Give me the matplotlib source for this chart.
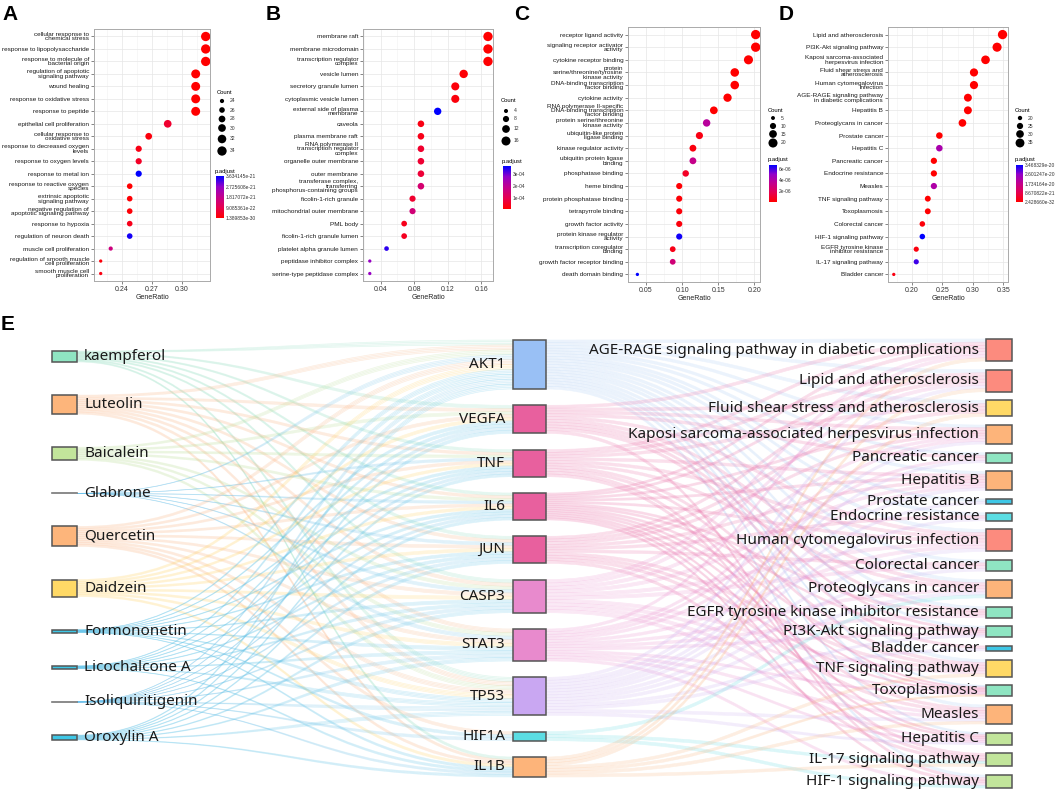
import numpy as np
import matplotlib
matplotlib.use("Agg")
import matplotlib.pyplot as plt
from matplotlib.colors import LinearSegmentedColormap, Normalize
from matplotlib.colorbar import ColorbarBase
from matplotlib.patches import Rectangle, PathPatch
from matplotlib.path import Path

plt.rcParams['font.family'] = ['Liberation Sans', 'DejaVu Sans']

# ---------------- datos: enriquecimiento GO / KEGG ----------------
A_terms = ["cellular response to\nchemical stress", "response to lipopolysaccharide",
           "response to molecule of\nbacterial origin", "regulation of apoptotic\nsignaling pathway",
           "wound healing", "response to oxidative stress", "response to peptide",
           "epithelial cell proliferation", "cellular response to\noxidative stress",
           "response to decreased oxygen\nlevels", "response to oxygen levels", "response to metal ion",
           "response to reactive oxygen\nspecies", "extrinsic apoptotic\nsignaling pathway",
           "negative regulation of\napoptotic signaling pathway", "response to hypoxia",
           "regulation of neuron death", "muscle cell proliferation",
           "regulation of smooth muscle\ncell proliferation", "smooth muscle cell\nproliferation"]
A_ratio = [0.324, 0.324, 0.324, 0.314, 0.314, 0.314, 0.314, 0.286, 0.267, 0.257,
           0.257, 0.257, 0.248, 0.248, 0.248, 0.248, 0.248, 0.229, 0.219, 0.219]
A_count = [34, 34, 34, 33, 33, 33, 33, 30, 28, 27, 27, 27, 26, 26, 26, 26, 26, 24, 23, 23]
A_padj = [1.389853e-30, 3e-29, 5e-29, 2e-27, 4e-27, 6e-27, 9e-27, 5.5e-22, 1.5e-22, 2.5e-22,
          4.5e-22, 3.634145e-21, 2e-23, 5e-23, 8e-23, 3e-22, 3.5e-21, 1.6e-21, 1e-22, 2e-22]
A_breaks = [24, 26, 28, 30, 32, 34]
A_pticks = [1.389853e-30, 9.085361e-22, 1.817072e-21, 2.725608e-21, 3.634145e-21]
A_plabels = ["1.389853e-30", "9.085361e-22", "1.817072e-21", "2.725608e-21", "3.634145e-21"]

B_terms = ["membrane raft", "membrane microdomain", "transcription regulator\ncomplex", "vesicle lumen",
           "secretory granule lumen", "cytoplasmic vesicle lumen", "external side of plasma\nmembrane",
           "caveola", "plasma membrane raft", "RNA polymerase II\ntranscription regulator\ncomplex",
           "organelle outer membrane", "outer membrane",
           "transferase complex,\ntransferring\nphosphorus-containing groups", "ficolin-1-rich granule",
           "mitochondrial outer membrane", "PML body", "ficolin-1-rich granule lumen",
           "platelet alpha granule lumen", "peptidase inhibitor complex", "serine-type peptidase complex"]
B_ratio = [0.168, 0.168, 0.168, 0.139, 0.129, 0.129, 0.108, 0.088, 0.088, 0.088,
           0.088, 0.088, 0.088, 0.078, 0.078, 0.068, 0.068, 0.047, 0.027, 0.027]
B_count = [17, 17, 17, 14, 13, 13, 11, 9, 9, 9, 9, 9, 9, 8, 8, 7, 7, 5, 3, 3]
B_padj = [8e-06, 9e-06, 1.2e-05, 1.5e-05, 2e-05, 2.2e-05, 3.67e-04, 3e-05, 3.5e-05, 6e-05,
          6.5e-05, 7e-05, 1.45e-04, 6e-05, 1.55e-04, 4e-05, 4.5e-05, 3.4e-04, 2.7e-04, 2.7e-04]
B_breaks = [4, 8, 12, 16]
B_pticks = [1e-04, 2e-04, 3e-04]
B_plabels = ["1e-04", "2e-04", "3e-04"]

C_terms = ["receptor ligand activity", "signaling receptor activator\nactivity", "cytokine receptor binding",
           "protein\nserine/threonine/tyrosine\nkinase activity", "DNA-binding transcription\nfactor binding",
           "cytokine activity", "RNA polymerase II-specific\nDNA-binding transcription\nfactor binding",
           "protein serine/threonine\nkinase activity", "ubiquitin-like protein\nligase binding",
           "kinase regulator activity", "ubiquitin protein ligase\nbinding", "phosphatase binding",
           "heme binding", "protein phosphatase binding", "tetrapyrrole binding", "growth factor activity",
           "protein kinase regulator\nactivity", "transcription coregulator\nbinding",
           "growth factor receptor binding", "death domain binding"]
C_ratio = [0.202, 0.202, 0.192, 0.173, 0.173, 0.163, 0.144, 0.134, 0.124, 0.115,
           0.115, 0.105, 0.096, 0.096, 0.096, 0.096, 0.096, 0.087, 0.087, 0.038]
C_count = [21, 21, 20, 18, 18, 17, 15, 14, 13, 12, 12, 11, 10, 10, 10, 10, 10, 9, 9, 4]
C_padj = [1e-10, 2e-10, 5e-10, 1e-09, 2e-09, 5e-09, 2e-08, 3.8e-06, 4e-07, 3e-07,
          3.3e-06, 8e-07, 1e-07, 1.5e-07, 2e-07, 2.5e-07, 6.6e-06, 5e-07, 2.8e-06, 6.8e-06]
C_breaks = [5, 10, 15, 20]
C_pticks = [2e-06, 4e-06, 6e-06]
C_plabels = ["2e-06", "4e-06", "6e-06"]

D_terms = ["Lipid and atherosclerosis", "PI3K-Akt signaling pathway",
           "Kaposi sarcoma-associated\nherpesvirus infection", "Fluid shear stress and\natherosclerosis",
           "Human cytomegalovirus\ninfection", "AGE-RAGE signaling pathway\nin diabetic complications",
           "Hepatitis B", "Proteoglycans in cancer", "Prostate cancer", "Hepatitis C", "Pancreatic cancer",
           "Endocrine resistance", "Measles", "TNF signaling pathway", "Toxoplasmosis", "Colorectal cancer",
           "HIF-1 signaling pathway", "EGFR tyrosine kinase\ninhibitor resistance", "IL-17 signaling pathway",
           "Bladder cancer"]
D_ratio = [0.349, 0.340, 0.321, 0.302, 0.302, 0.292, 0.292, 0.283, 0.245, 0.245,
           0.236, 0.236, 0.236, 0.226, 0.226, 0.217, 0.217, 0.207, 0.207, 0.170]
D_count = [37, 36, 34, 32, 32, 31, 31, 30, 26, 26, 25, 25, 25, 24, 24, 23, 23, 22, 22, 18]
D_padj = [2.42866e-32, 1e-30, 1e-28, 5e-28, 1e-27, 5e-27, 1e-26, 1e-25, 1e-24, 2.2e-20,
          1e-23, 2e-23, 2.1e-20, 1e-22, 2e-22, 1e-21, 3.468329e-20, 1.5e-21, 3.1e-20, 2e-21]
D_breaks = [20, 25, 30, 35]
D_pticks = [2.42866e-32, 8.670822e-21, 1.734164e-20, 2.601247e-20, 3.468329e-20]
D_plabels = ["2.428660e-32", "8.670822e-21", "1.734164e-20", "2.601247e-20", "3.468329e-20"]

# ---------------- datos: sankey ----------------
compounds = ["kaempferol", "Luteolin", "Baicalein", "Glabrone", "Quercetin", "Daidzein",
             "Formononetin", "Licochalcone A", "Isoliquiritigenin", "Oroxylin A"]
compound_val = [11, 19, 13, 0, 20, 17, 3, 3, 0, 5]
compound_col = ["#8FE5C2", "#FDB57B", "#C2E59B", "#9A9A9A", "#FDB57B", "#FFD966",
                "#3EC7E6", "#3EC7E6", "#9A9A9A", "#3EC7E6"]
compound_link = ["#86DDBB", "#FDB07A", "#B7DE8E", "#6EC3EC", "#FDB07A", "#FFD45A",
                 "#5CC4EA", "#5CC4EA", "#6EC3EC", "#5CC4EA"]

genes = ["AKT1", "VEGFA", "TNF", "IL6", "JUN", "CASP3", "STAT3", "TP53", "HIF1A", "IL1B"]
gene_val = [49, 28, 27, 27, 27, 33, 32, 38, 9, 20]
gene_col = ["#99C0F5", "#E8609E", "#E8609E", "#E8609E", "#E8609E", "#E88ACD",
            "#E88ACD", "#C9A7F2", "#5BDDE3", "#FDB47A"]
gene_link = ["#A9CBF7", "#EE6FA8", "#EE6FA8", "#EE6FA8", "#EE6FA8", "#EE8CCF",
             "#EE8CCF", "#CDB0F3", "#5BDDE3", "#FDB47A"]

pathways = ["AGE-RAGE signaling pathway in diabetic complications", "Lipid and atherosclerosis",
            "Fluid shear stress and atherosclerosis", "Kaposi sarcoma-associated herpesvirus infection",
            "Pancreatic cancer", "Hepatitis B", "Prostate cancer", "Endocrine resistance",
            "Human cytomegalovirus infection", "Colorectal cancer", "Proteoglycans in cancer",
            "EGFR tyrosine kinase inhibitor resistance", "PI3K-Akt signaling pathway", "Bladder cancer",
            "TNF signaling pathway", "Toxoplasmosis", "Measles", "Hepatitis C", "IL-17 signaling pathway",
            "HIF-1 signaling pathway"]
pathway_val = [22, 22, 16, 19, 10, 19, 5, 8, 22, 11, 18, 11, 11, 5, 17, 11, 19, 12, 13, 13]
pathway_col = ["#FC8B7E", "#FC8B7E", "#FFD966", "#FDB47A", "#8FE5C2", "#FDB47A", "#3EC7E6", "#5BDDE3",
               "#FC8B7E", "#8FE5C2", "#FDB47A", "#8FE5C2", "#8FE5C2", "#3EC7E6", "#FFD966", "#8FE5C2",
               "#FDB47A", "#C2E59B", "#C2E59B", "#C2E59B"]

compound_targets = {
    "kaempferol": ["AKT1", "VEGFA", "TNF", "IL6", "JUN", "CASP3", "TP53", "IL1B"],
    "Luteolin": ["AKT1", "VEGFA", "TNF", "IL6", "JUN", "CASP3", "STAT3", "TP53", "IL1B"],
    "Baicalein": ["AKT1", "VEGFA", "TNF", "IL6", "CASP3", "STAT3", "TP53"],
    "Glabrone": ["AKT1", "TNF", "IL6", "JUN", "CASP3", "STAT3"],
    "Quercetin": ["AKT1", "VEGFA", "TNF", "IL6", "JUN", "CASP3", "STAT3", "TP53", "HIF1A", "IL1B"],
    "Daidzein": ["AKT1", "VEGFA", "TNF", "IL6", "JUN", "CASP3", "STAT3", "TP53", "IL1B"],
    "Formononetin": ["AKT1", "VEGFA", "TNF", "IL6", "JUN", "CASP3", "STAT3", "TP53", "HIF1A", "IL1B"],
    "Licochalcone A": ["AKT1", "VEGFA", "TNF", "IL6", "JUN", "CASP3", "STAT3", "TP53", "IL1B"],
    "Isoliquiritigenin": ["AKT1", "VEGFA", "TNF", "IL6", "JUN", "CASP3", "STAT3", "TP53", "HIF1A", "IL1B"],
    "Oroxylin A": ["AKT1", "VEGFA", "TNF", "IL6", "JUN", "CASP3", "STAT3", "TP53", "IL1B"],
}
P = pathways
gene_pathways = {
    "AKT1": [P[0], P[1], P[2], P[3], P[4], P[5], P[6], P[7], P[8], P[9], P[10], P[11], P[12],
             P[14], P[15], P[16], P[17], P[19]],
    "VEGFA": [P[0], P[2], P[3], P[4], P[8], P[10], P[11], P[12], P[13], P[19]],
    "TNF": [P[0], P[1], P[2], P[5], P[8], P[10], P[14], P[15], P[17], P[18]],
    "IL6": [P[0], P[1], P[3], P[5], P[8], P[11], P[12], P[14], P[15], P[16], P[17], P[18], P[19]],
    "JUN": [P[1], P[2], P[3], P[5], P[7], P[9], P[14], P[15], P[18], P[16]],
    "CASP3": [P[0], P[1], P[3], P[5], P[8], P[9], P[14], P[15], P[16], P[17]],
    "STAT3": [P[0], P[3], P[4], P[5], P[8], P[10], P[11], P[12], P[15], P[16], P[17], P[19]],
    "TP53": [P[1], P[3], P[4], P[5], P[6], P[8], P[9], P[10], P[12], P[13], P[16], P[17], P[7]],
    "HIF1A": [P[10], P[18], P[19]],
    "IL1B": [P[0], P[1], P[2], P[14], P[16], P[18], P[15]],
}

# ---------------- figura ----------------
W, H = 1059, 792
fig = plt.figure(figsize=(W / 100, H / 100), dpi=100)
ov = fig.add_axes([0, 0, 1, 1])
ov.set_xlim(0, W)
ov.set_ylim(H, 0)
ov.axis("off")
ov.patch.set_visible(False)

cmap = LinearSegmentedColormap.from_list(
    "padj", [(0, "#FF0000"), (0.25, "#E6004F"), (0.5, "#C3008C"), (0.75, "#9300C8"), (1, "#0000FF")])
S_MIN, S_MAX = 5.6, 45.0


def px_rect(x0, y0, x1, y1):
    return [x0 / W, 1 - y1 / H, (x1 - x0) / W, (y1 - y0) / H]


def dot_panel(box, terms, ratio, count, padj, xticks, xlim, breaks, pticks, plabels, leg):
    ax = fig.add_axes(px_rect(*box))
    n = len(terms)
    ypos = np.arange(n)[::-1]
    count = np.asarray(count, float)
    cmin, cmax = count.min(), count.max()
    sz = lambda c: S_MIN + (np.asarray(c, float) - cmin) / (cmax - cmin) * (S_MAX - S_MIN)
    norm = Normalize(min(padj), max(padj))
    ax.scatter(ratio, ypos, s=sz(count), c=padj, cmap=cmap, norm=norm, linewidths=0, zorder=3)
    ax.set_ylim(-0.6, n - 0.4)
    ax.set_xlim(*xlim)
    ax.set_yticks(ypos)
    ax.set_yticklabels(terms, fontsize=4.6, linespacing=0.85, color="#1A1A1A")
    ax.set_xticks(xticks)
    ax.set_xticklabels([f"{t:.2f}" for t in xticks], fontsize=5, color="#333333")
    step = xticks[1] - xticks[0]
    ax.set_xticks(np.arange(xticks[0] - step / 2, xlim[1], step), minor=True)
    ax.grid(which="major", color="#E6E6E6", lw=0.5)
    ax.grid(which="minor", axis="x", color="#F2F2F2", lw=0.4)
    ax.set_axisbelow(True)
    ax.tick_params(which="major", length=2, width=0.5, color="#555555", pad=1.5)
    ax.tick_params(which="minor", length=0)
    for sp in ax.spines.values():
        sp.set_color("#AAAAAA")
        sp.set_linewidth(0.7)
    ax.set_xlabel("GeneRatio", fontsize=5, labelpad=1, color="#222222")

    # leyenda de tamano
    lx, ly, ys, cb = leg
    ov.text(lx, ly, "Count", fontsize=4.2, va="center", ha="left")
    ov.scatter([lx + 5] * len(breaks), ys, s=sz(breaks), color="black", linewidths=0)
    for b, y in zip(breaks, ys):
        ov.text(lx + 13, y, str(b), fontsize=3.6, va="center", ha="left", color="#333333")
    # barra de color
    cx0, cy0, cx1, cy1 = cb
    ov.text(cx0 - 1, cy0 - 5, "p.adjust", fontsize=4.2, va="center", ha="left")
    cax = fig.add_axes(px_rect(cx0, cy0, cx1, cy1))
    cbar = ColorbarBase(cax, cmap=cmap, norm=norm)
    cbar.outline.set_visible(False)
    cbar.set_ticks(pticks)
    cbar.set_ticklabels(plabels)
    cax.tick_params(labelsize=3.5, length=0, pad=1.5, labelcolor="#333333")
    return ax


dot_panel((94, 29, 210, 281), A_terms, A_ratio, A_count, A_padj, [0.24, 0.27, 0.30], (0.2123, 0.3283),
          A_breaks, A_pticks, A_plabels, (217, 92, [101, 110, 119, 128, 139, 151], (216, 176, 224, 218)))
dot_panel((363, 29, 493, 281), B_terms, B_ratio, B_count, B_padj, [0.04, 0.08, 0.12, 0.16], (0.0189, 0.174),
          B_breaks, B_pticks, B_plabels, (501, 101, [111, 119, 129, 141], (503, 166, 511, 209)))
dot_panel((628, 27, 760, 282), C_terms, C_ratio, C_count, C_padj, [0.05, 0.10, 0.15, 0.20], (0.0293, 0.208),
          C_breaks, C_pticks, C_plabels, (768, 110, [118, 126, 134, 143], (769, 165, 777, 202)))
dot_panel((888, 27, 1008, 282), D_terms, D_ratio, D_count, D_padj, [0.20, 0.25, 0.30, 0.35], (0.1605, 0.358),
          D_breaks, D_pticks, D_plabels, (1015, 110, [118, 126, 134, 143], (1016, 165, 1023, 202)))

for lab, x, y in [("A", 2, 14), ("B", 266, 14), ("C", 514, 14), ("D", 779, 14), ("E", 1, 325)]:
    ov.text(x, y, lab, fontsize=15, fontweight="bold", va="center", ha="left")


# ---------------- sankey ----------------
def column(vals, top, bottom):
    v = np.asarray(vals, float)
    gap = (bottom - top - v.sum()) / (len(v) - 1)
    return top + np.concatenate([[0], np.cumsum(v[:-1] + gap)]), v


L_top, L_h = column(compound_val, 351, 740)
M_top, M_h = column(gene_val, 340, 777)
R_top, R_h = column(pathway_val, 339, 788)
LX0, LX1 = 52, 77
MX0, MX1 = 513, 546
RX0, RX1 = 986, 1012


def slots(edges, tops, hs, other_c, side):
    res = {}
    for i in range(len(tops)):
        ks = [k for k, e in enumerate(edges) if e[side] == i]
        ks.sort(key=lambda k: other_c[edges[k][1 - side]])
        n = len(ks)
        for r, k in enumerate(ks):
            res[k] = (tops[i] + hs[i] * r / n, tops[i] + hs[i] * (r + 1) / n)
    return res


def draw_links(edges, s_top, s_h, t_top, t_h, x0, x1, colors, nstrand=4):
    s_c = s_top + s_h / 2
    t_c = t_top + t_h / 2
    out_s = slots(edges, s_top, s_h, t_c, 0)
    in_s = slots(edges, t_top, t_h, s_c, 1)
    xm = (x0 + x1) / 2
    for k, (i, j) in enumerate(edges):
        a0, a1 = out_s[k]
        b0, b1 = in_s[k]
        col = colors[i]
        verts = [(x0, a0), (xm, a0), (xm, b0), (x1, b0), (x1, b1), (xm, b1), (xm, a1), (x0, a1), (x0, a0)]
        codes = [Path.MOVETO, Path.CURVE4, Path.CURVE4, Path.CURVE4, Path.LINETO,
                 Path.CURVE4, Path.CURVE4, Path.CURVE4, Path.CLOSEPOLY]
        ov.add_patch(PathPatch(Path(verts, codes), fc=col, ec="none", alpha=0.07, zorder=1))
        for f in np.linspace(0, 1, nstrand):
            ya = a0 + (a1 - a0) * f
            yb = b0 + (b1 - b0) * f
            p = Path([(x0, ya), (xm, ya), (xm, yb), (x1, yb)],
                     [Path.MOVETO, Path.CURVE4, Path.CURVE4, Path.CURVE4])
            ov.add_patch(PathPatch(p, fc="none", ec=col, lw=0.45, alpha=0.22, zorder=1))


edges1 = [(compounds.index(c), genes.index(g)) for c in compounds for g in compound_targets[c]]
edges2 = [(genes.index(g), pathways.index(p)) for g in genes for p in gene_pathways[g]]
draw_links(edges1, L_top, L_h, M_top, M_h, LX1, MX0, compound_link)
draw_links(edges2, M_top, M_h, R_top, R_h, MX1, RX0, gene_link)


def nodes(tops, hs, x0, x1, cols):
    for t, h, c in zip(tops, hs, cols):
        if h == 0:
            ov.plot([x0, x1], [t, t], color="#777777", lw=1.2, zorder=3)
        else:
            ov.add_patch(Rectangle((x0, t), x1 - x0, h, fc=c, ec="#555555", lw=1.1, zorder=3))


nodes(L_top, L_h, LX0, LX1, compound_col)
nodes(M_top, M_h, MX0, MX1, gene_col)
nodes(R_top, R_h, RX0, RX1, pathway_col)

sk_font = dict(family=["Noto Sans", "DejaVu Sans"], fontsize=11, color="#1A1A1A", va="center", zorder=4)
for name, t, h in zip(compounds, L_top, L_h):
    ov.text(LX1 + 7, t + h / 2, name, ha="left", **sk_font)
for name, t, h in zip(genes, M_top, M_h):
    ov.text(MX0 - 8, t + h / 2, name, ha="right", **sk_font)
for name, t, h in zip(pathways, R_top, R_h):
    ov.text(RX0 - 7, t + h / 2, name, ha="right", **sk_font)

fig.savefig("out.png", dpi=100)
